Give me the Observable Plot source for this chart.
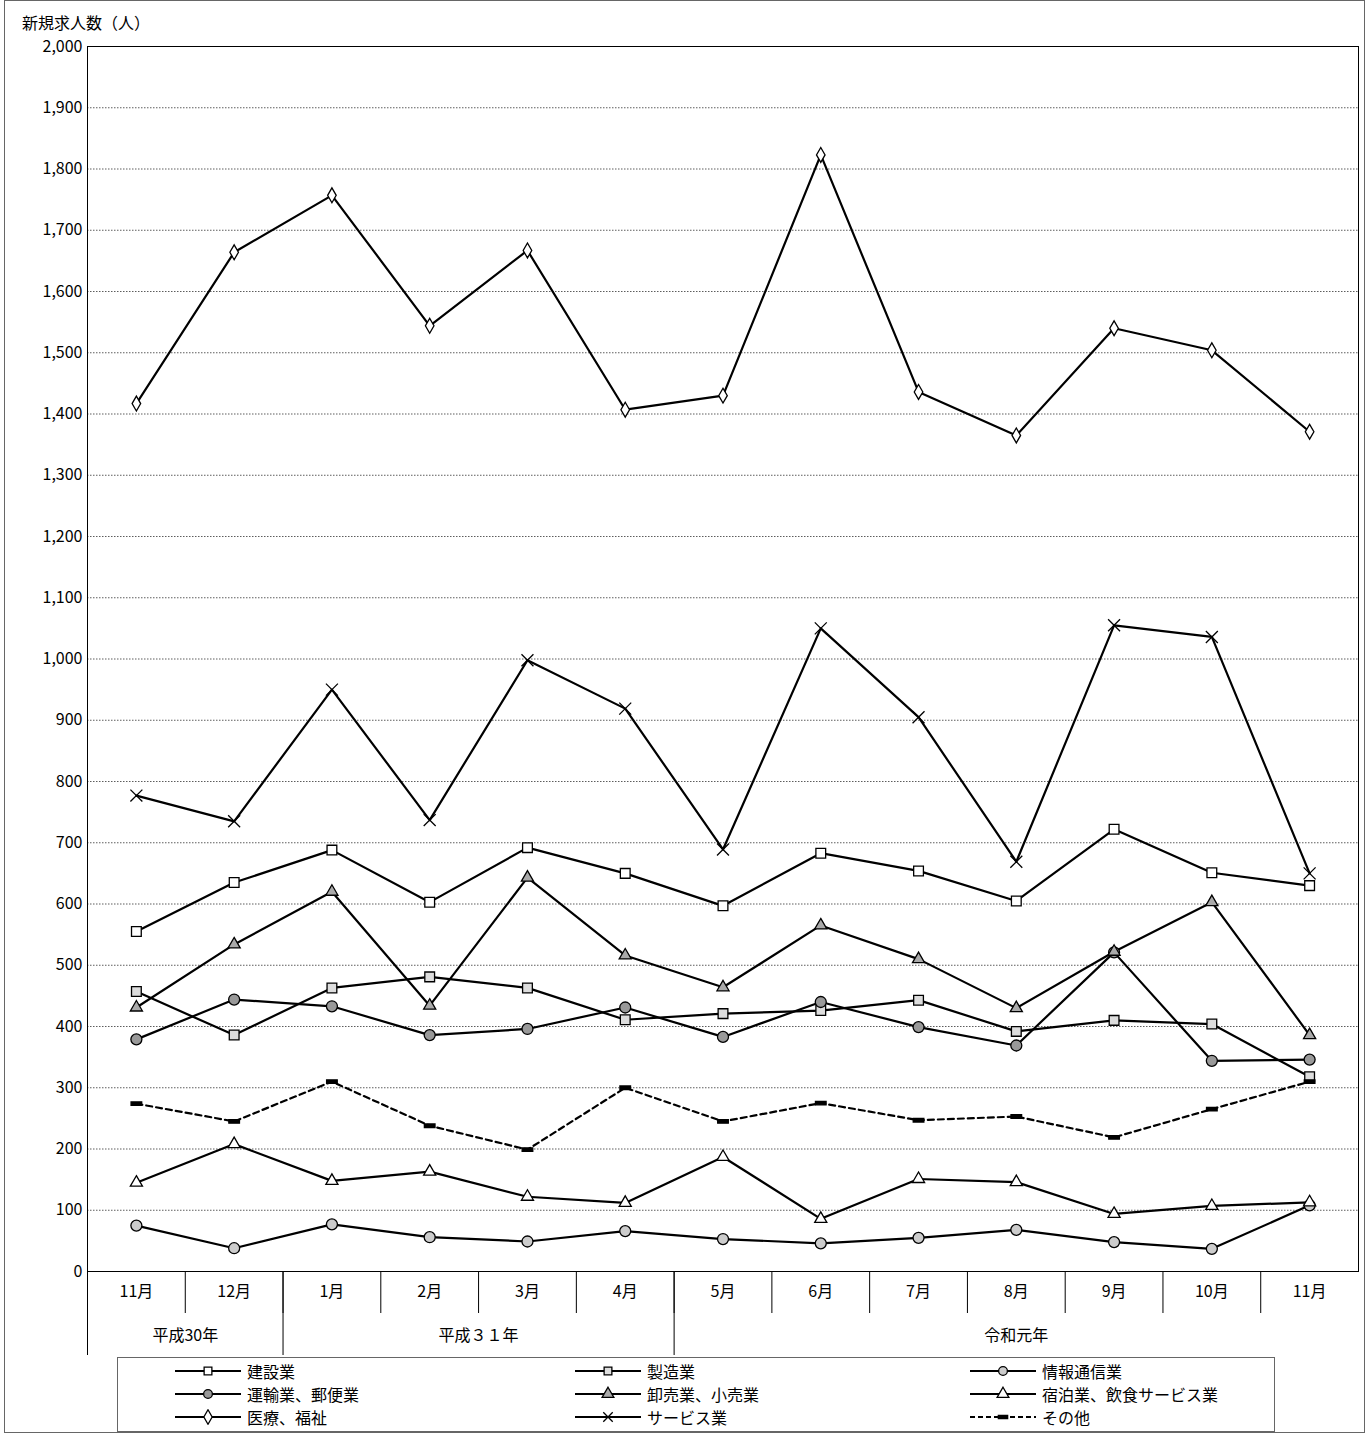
<!DOCTYPE html>
<html><head><meta charset="utf-8">
<script src="https://cdn.jsdelivr.net/npm/d3@7"></script>
<script src="https://cdn.jsdelivr.net/npm/@observablehq/plot@0.6"></script>
<style>
body{margin:0;background:#fff;font-family:"Noto Sans CJK JP",sans-serif;}
#wrap{position:relative;width:1369px;height:1434px;}
#frame{position:absolute;left:4px;top:0;width:1361px;height:1433px;border:1px solid #666;box-sizing:border-box;}
#title{position:absolute;left:22px;top:10px;font-size:16px;}
#chart{position:absolute;left:0;top:0;}
#legend{position:absolute;left:117px;top:1357px;width:1158px;height:75px;border:1px solid #666;box-sizing:border-box;font-size:16px;}
.it{position:absolute;display:flex;align-items:center;height:22px;}
.it svg{margin-right:4px;}
</style></head><body>
<div id="wrap"><div id="frame"></div><div id="chart"></div><div id="title">新規求人数（人）</div><div id="legend"></div></div>
<script>
const months = ["11月","12月","1月","2月","3月","4月","5月","6月","7月","8月","9月","10月","11月"];
const years = ["平成30年","平成３１年","令和元年"];
const yearMid = [0.5, 3.5, 9];
const yearBounds = [-0.5, 1.5, 5.5];
const yTicks = d3.range(0, 2001, 100);

const kensetsu = [555,635,688,603,692,650,597,683,654,605,722,651,630];
const seizo = [457,386,463,481,463,411,421,426,443,392,410,404,318];
const joho = [75,38,77,56,49,66,53,46,55,68,48,37,108];
const unyu = [379,444,433,386,396,431,383,440,399,369,521,344,346];
const oroshi = [431,534,620,434,643,516,464,565,510,430,522,603,386];
const shukuhaku = [145,208,148,163,122,112,187,86,151,146,94,107,113];
const iryo = [1417,1664,1757,1544,1667,1407,1430,1823,1436,1365,1540,1504,1371];
const service = [777,735,950,737,998,919,689,1050,905,669,1055,1036,650];
const sonota = [274,245,310,238,199,300,245,275,247,253,219,265,310];

const dash = {draw(ctx, size){ const w = Math.sqrt(size)*1.2, h = w/3; ctx.rect(-w/2,-h/2,w,h); }};

const series = [
  {name:"建設業", v:kensetsu, symbol:"square", fill:"#fff", r:5.5},
  {name:"製造業", v:seizo, symbol:"square", fill:"#ddd", r:5.5},
  {name:"情報通信業", v:joho, symbol:"circle", fill:"#ccc", r:5.5},
  {name:"運輸業、郵便業", v:unyu, symbol:"circle", fill:"#999", r:5.5},
  {name:"卸売業、小売業", v:oroshi, symbol:"triangle", fill:"#aaa", r:4.5},
  {name:"宿泊業、飲食サービス業", v:shukuhaku, symbol:"triangle", fill:"#fff", r:4.5},
  {name:"医療、福祉", v:iryo, symbol:"diamond", fill:"#fff", r:4.5},
  {name:"サービス業", v:service, symbol:"times", fill:"none", r:5.5},
  {name:"その他", v:sonota, symbol:dash, fill:"#000", r:5, dashed:true}
];

const marks = [
  Plot.gridY(yTicks.filter(d => d > 0), {stroke:"#000", strokeOpacity:0.8, strokeDasharray:"1.5,1.5", strokeWidth:0.8}),
  Plot.axisY(yTicks, {label:null, tickFormat:d3.format(","), tickSize:0, tickPadding:5, fontSize:16}),
  Plot.axisX(d3.range(13), {label:null, tickFormat:i => months[i], tickSize:0, tickPadding:14, fontSize:16}),
  Plot.axisX(d3.range(12).map(i => i + 0.5), {label:null, tickFormat:() => "", tickSize:42, stroke:"#000"}),
  Plot.axisX(yearBounds, {label:null, tickFormat:() => "", tickSize:84, stroke:"#000"}),
  Plot.axisX(yearMid, {label:null, tickFormat:(d,i) => years[i], tickSize:0, tickPadding:58, fontSize:16}),
  Plot.frame({stroke:"#000"})
];
for (const s of series) {
  const data = s.v.map((y, i) => ({i, y}));
  marks.push(Plot.line(data, {x:"i", y:"y", stroke:"#000", strokeWidth:2.2, strokeDasharray:s.dashed ? "6,4" : null}));
}
for (const s of series) {
  const data = s.v.map((y, i) => ({i, y}));
  marks.push(Plot.dot(data, {x:"i", y:"y", symbol:() => s.symbol, r:s.r, fill:s.fill, stroke:"#000", strokeWidth:1.3}));
}

const chart = Plot.plot({
  width:1369, height:1360,
  marginLeft:87, marginRight:11, marginTop:46, marginBottom:89,
  x:{type:"linear", domain:[-0.5, 12.5], axis:null},
  y:{domain:[0, 2000], axis:null},
  symbol:{type:"identity"},
  style:{fontFamily:"'Noto Sans CJK JP', sans-serif", fontSize:"16px", color:"#000", overflow:"visible"},
  marks
});
document.getElementById("chart").append(chart);

// legend
const leg = document.getElementById("legend");
const cols = [55, 455, 850];
series.forEach((s, k) => {
  const div = document.createElement("div");
  div.className = "it";
  div.style.left = cols[k % 3] + "px";
  div.style.top = (2 + Math.floor(k / 3) * 23) + "px";
  const svg = d3.create("svg").attr("width", 70).attr("height", 16);
  svg.append("line").attr("x1", 2).attr("x2", 68).attr("y1", 8).attr("y2", 8)
    .attr("stroke", "#000").attr("stroke-width", 2.2).attr("stroke-dasharray", s.dashed ? "5,3" : null);
  const sym = typeof s.symbol === "string"
    ? {square:d3.symbolSquare, circle:d3.symbolCircle, triangle:d3.symbolTriangle, diamond:d3.symbolDiamond, times:d3.symbolTimes}[s.symbol]
    : s.symbol;
  svg.append("path").attr("transform", "translate(35,8)").attr("d", d3.symbol(sym, 60)())
    .attr("fill", s.fill).attr("stroke", "#000").attr("stroke-width", 1.3);
  div.append(svg.node());
  div.append(s.name);
  leg.append(div);
});
</script></body></html>
